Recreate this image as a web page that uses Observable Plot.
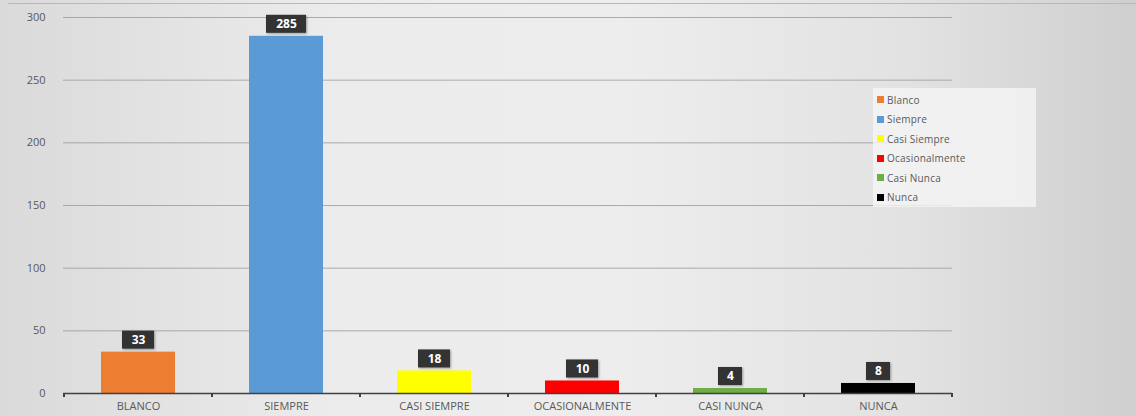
<!DOCTYPE html>
<html>
<head>
<meta charset="utf-8">
<script src="https://cdn.jsdelivr.net/npm/d3@7"></script>
<script src="https://cdn.jsdelivr.net/npm/@observablehq/plot@0.6"></script>
<style>
  html, body { margin: 0; padding: 0; }
  #wrap {
    position: relative; width: 1136px; height: 416px; overflow: hidden;
    background: linear-gradient(90deg, #dadada 0%, #ececec 30%, #ededed 55%, #e2e2e2 80%, #cfcfcf 100%);
    font-family: "Open Sans", "Liberation Sans", sans-serif;
  }
  #wrap svg { position: absolute; left: 0; top: 0; background: transparent; }
  #wrap svg g[aria-label="rect"] rect { filter: drop-shadow(1px 1px 1px rgba(0,0,0,0.35)); }
  #legend {
    position: absolute; left: 873px; top: 88px; width: 163px; height: 119px;
    background: rgba(245,245,245,0.8); box-sizing: border-box; padding-top: 2px;
  }
  .li { height: 19.5px; display: flex; align-items: center; font-size: 10px; color: #595959; letter-spacing: 0.2px; }
  .sw { width: 7px; height: 7px; margin-left: 4px; margin-right: 3px; }
  #topline { position: absolute; left: 8px; right: 0; top: 3px; height: 1px; background: #b8b8b8; }
</style>
</head>
<body>
<div id="wrap"><div id="topline"></div></div>
<script>
const categories = ["BLANCO", "SIEMPRE", "CASI SIEMPRE", "OCASIONALMENTE", "CASI NUNCA", "NUNCA"];
const legendNames = ["Blanco", "Siempre", "Casi Siempre", "Ocasionalmente", "Casi Nunca", "Nunca"];
const values = [33, 285, 18, 10, 4, 8];
const colors = ["#ED7D31", "#5B9BD5", "#FFFF00", "#FF0000", "#70AD47", "#000000"];
const yTicks = [0, 50, 100, 150, 200, 250, 300];

const data = categories.map((c, i) => ({cat: c, value: values[i], color: colors[i], digits: String(values[i]).length}));

// label box: one rect mark per label length, so each box fits its number
const boxInsets = {1: 25, 2: 21, 3: 17};
const boxMarks = [1, 2, 3].map(k => Plot.rect(data.filter(d => d.digits === k), {
  x: "cat", y1: "value", y2: "value",
  insetTop: -21, insetBottom: 3, insetLeft: boxInsets[k], insetRight: boxInsets[k],
  fill: "#333333"
}));

const plot = Plot.plot({
  width: 1136,
  height: 416,
  marginLeft: 63,
  marginRight: 184,
  marginTop: 17,
  marginBottom: 23,
  style: {background: "transparent", fontFamily: "'Open Sans', 'Liberation Sans', sans-serif", fontSize: "11px", color: "#595959"},
  x: {domain: categories, paddingInner: 0.5, paddingOuter: 0.25, label: null},
  y: {domain: [0, 300], label: null},
  marks: [
    Plot.gridY(yTicks, {stroke: "#9a9a9a", strokeOpacity: 0.8, strokeWidth: 1}),
    Plot.axisY(yTicks, {tickSize: 0, tickPadding: 18, fill: "#595959", fontSize: 11}),
    Plot.barY(data, {x: "cat", y: "value", fill: "color"}),
    Plot.ruleY([0], {stroke: "#404040", strokeWidth: 1.6}),
    Plot.axisX({tickSize: 0, tickPadding: 9, fill: "#595959", fontSize: 11}),
    ...boxMarks,
    Plot.text(data, {x: "cat", y: "value", text: d => String(d.value), dy: -12, fill: "white", fontWeight: "bold", fontSize: 12})
  ]
});

const wrap = document.getElementById("wrap");
wrap.appendChild(plot);

// small tick marks at band boundaries on the category axis
const svgNS = "http://www.w3.org/2000/svg";
const xs = plot.scale("x");
const ys = plot.scale("y");
const y0 = ys.apply(0);
const step = xs.step;
const edges = categories.map(c => xs.apply(c) - step * xs.paddingInner / 2);
edges.push(xs.apply(categories[categories.length - 1]) + xs.bandwidth + step * xs.paddingInner / 2);
const g = document.createElementNS(svgNS, "g");
edges.forEach(x => {
  const l = document.createElementNS(svgNS, "line");
  l.setAttribute("x1", x); l.setAttribute("x2", x);
  l.setAttribute("y1", y0); l.setAttribute("y2", y0 + 4);
  l.setAttribute("stroke", "#404040"); l.setAttribute("stroke-width", 2);
  g.appendChild(l);
});
plot.appendChild(g);

// legend
const leg = document.createElement("div");
leg.id = "legend";
legendNames.forEach((n, i) => {
  const row = document.createElement("div");
  row.className = "li";
  const sw = document.createElement("div");
  sw.className = "sw";
  sw.style.background = colors[i];
  const tx = document.createElement("span");
  tx.textContent = n;
  row.appendChild(sw); row.appendChild(tx);
  leg.appendChild(row);
});
wrap.appendChild(leg);
</script>
</body>
</html>
